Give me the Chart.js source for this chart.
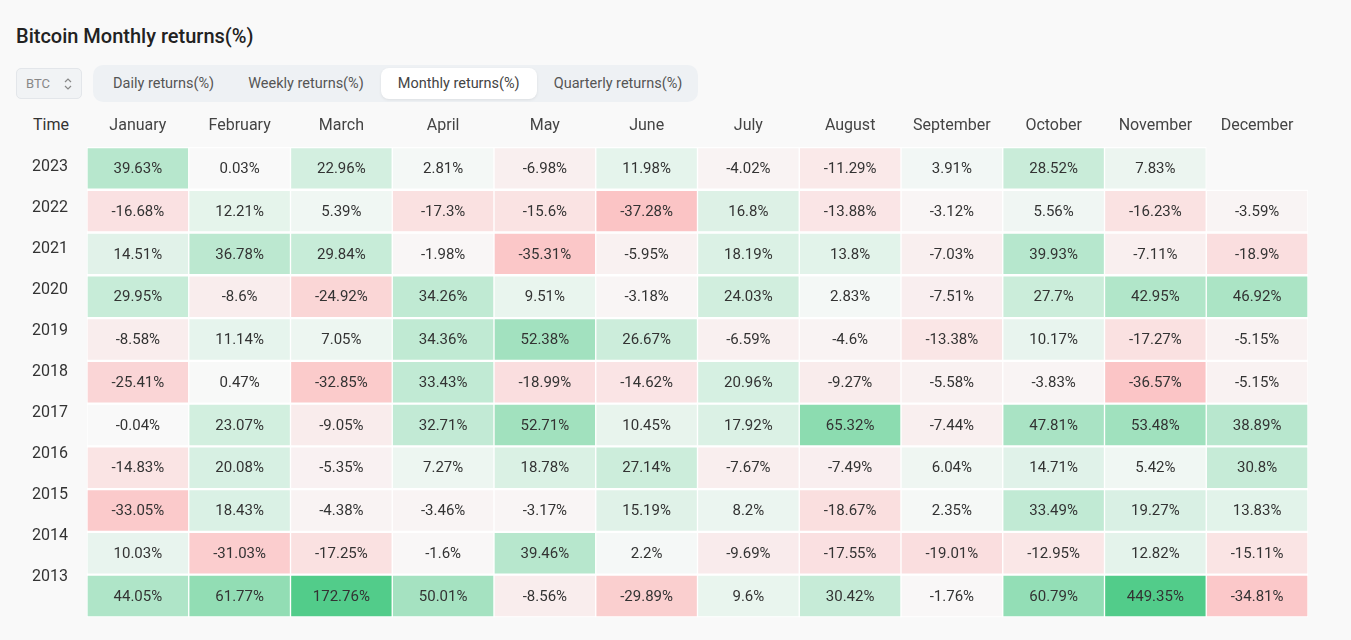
<!DOCTYPE html>
<html>
<head>
<meta charset="utf-8">
<script src="https://cdn.jsdelivr.net/npm/chart.js@4.4.0/dist/chart.umd.min.js"></script>
<style>
  html, body { margin: 0; padding: 0; background: #f9f9f9; }
  body { width: 1351px; height: 640px; position: relative; overflow: hidden; font-family: Roboto, "Noto Sans", sans-serif; }
  .title { position: absolute; left: 16px; top: 24px; font-size: 20px; font-weight: 500; color: #222; line-height: 24px; }
  .select { position: absolute; left: 16px; top: 68px; width: 64px; height: 29px; border: 1px solid #e3e6ea; background: #f1f3f5; border-radius: 5px; box-sizing: content-box; }
  .select span { position: absolute; left: 9px; top: 0; line-height: 29px; font-size: 13px; color: #888; }
  .select svg { position: absolute; left: 46px; top: 8px; }
  .tabs { position: absolute; left: 93px; top: 65px; height: 37px; width: 605px; background: #eef1f4; border-radius: 10px; padding: 3px; box-sizing: border-box; display: flex; }
  .tab { padding: 0 17px; line-height: 31px; font-size: 14.5px; color: #555; border-radius: 8px; white-space: nowrap; }
  .tab.active { background: #fff; box-shadow: 0 1px 3px rgba(0,0,0,0.08); color: #444; }
  .time { position: absolute; left: 33px; top: 115px; font-size: 16px; color: #333; line-height: 20px; }
  #wrap { position: absolute; left: 15px; top: 105px; width: 1300px; height: 541px; }
</style>
</head>
<body>
<div class="title">Bitcoin Monthly returns(%)</div>
<div class="select"><span>BTC</span>
  <svg width="10" height="14" viewBox="0 0 10 14"><path d="M2 5 L5 2 L8 5 M2 9 L5 12 L8 9" fill="none" stroke="#888" stroke-width="1.2"/></svg>
</div>
<div class="tabs">
  <div class="tab">Daily returns(%)</div>
  <div class="tab">Weekly returns(%)</div>
  <div class="tab active">Monthly returns(%)</div>
  <div class="tab">Quarterly returns(%)</div>
</div>
<div class="time">Time</div>
<div id="wrap"><canvas id="heat"></canvas></div>

<script>
const months = ['January', 'February', 'March', 'April', 'May', 'June', 'July', 'August', 'September', 'October', 'November', 'December'];
const years = ['2023', '2022', '2021', '2020', '2019', '2018', '2017', '2016', '2015', '2014', '2013'];

const r2023 = [39.63, 0.03, 22.96, 2.81, -6.98, 11.98, -4.02, -11.29, 3.91, 28.52, 7.83, null];
const r2022 = [-16.68, 12.21, 5.39, -17.3, -15.6, -37.28, 16.8, -13.88, -3.12, 5.56, -16.23, -3.59];
const r2021 = [14.51, 36.78, 29.84, -1.98, -35.31, -5.95, 18.19, 13.8, -7.03, 39.93, -7.11, -18.9];
const r2020 = [29.95, -8.6, -24.92, 34.26, 9.51, -3.18, 24.03, 2.83, -7.51, 27.7, 42.95, 46.92];
const r2019 = [-8.58, 11.14, 7.05, 34.36, 52.38, 26.67, -6.59, -4.6, -13.38, 10.17, -17.27, -5.15];
const r2018 = [-25.41, 0.47, -32.85, 33.43, -18.99, -14.62, 20.96, -9.27, -5.58, -3.83, -36.57, -5.15];
const r2017 = [-0.04, 23.07, -9.05, 32.71, 52.71, 10.45, 17.92, 65.32, -7.44, 47.81, 53.48, 38.89];
const r2016 = [-14.83, 20.08, -5.35, 7.27, 18.78, 27.14, -7.67, -7.49, 6.04, 14.71, 5.42, 30.8];
const r2015 = [-33.05, 18.43, -4.38, -3.46, -3.17, 15.19, 8.2, -18.67, 2.35, 33.49, 19.27, 13.83];
const r2014 = [10.03, -31.03, -17.25, -1.6, 39.46, 2.2, -9.69, -17.55, -19.01, -12.95, 12.82, -15.11];
const r2013 = [44.05, 61.77, 172.76, 50.01, -8.56, -29.89, 9.6, 30.42, -1.76, 60.79, 449.35, -34.81];

const rows = [r2023, r2022, r2021, r2020, r2019, r2018, r2017, r2016, r2015, r2014, r2013];

// white -> green for gains, white -> red for losses, saturating at 100%
function cellColor(v) {
  const base = [249, 249, 249];
  const end = v >= 0 ? [82, 204, 138] : [254, 108, 110];
  const t = Math.min(Math.abs(v) / 100, 1);
  const c = base.map((b, i) => Math.round(b + (end[i] - b) * t));
  return `rgb(${c[0]}, ${c[1]}, ${c[2]})`;
}

// one dataset per year, each cell a floating bar spanning its row (missing months left out)
const datasets = rows.map((vals, r) => ({
  label: years[r],
  data: vals.map((v, m) => ({ x: months[m], y: [r, r + 1], v: v })).filter((d) => d.v !== null),
  backgroundColor: (c) => c.raw ? cellColor(c.raw.v) : 'transparent',
  borderColor: '#ffffff',
  borderWidth: { top: 1.5, bottom: 1.5, left: 1, right: 1 },
  borderSkipped: false,
  barPercentage: 1,
  categoryPercentage: 1,
  grouped: false,
  yAxisID: 'y'
}));

const cellLabels = {
  id: 'cellLabels',
  afterDatasetsDraw(chart) {
    const ctx = chart.ctx;
    ctx.save();
    ctx.font = '15px Roboto, "Noto Sans", sans-serif';
    ctx.fillStyle = '#333';
    ctx.textAlign = 'center';
    ctx.textBaseline = 'middle';
    chart.data.datasets.forEach((ds, i) => {
      chart.getDatasetMeta(i).data.forEach((el, j) => {
        const raw = ds.data[j];
        if (!raw) return;
        const p = el.getCenterPoint();
        ctx.fillText(raw.v + '%', p.x, p.y + 1);
      });
    });
    ctx.restore();
  }
};

new Chart(document.getElementById('heat'), {
  type: 'bar',
  data: { labels: months, datasets: datasets },
  options: {
    responsive: true,
    maintainAspectRatio: false,
    animation: false,
    events: [],
    layout: { padding: { right: 7, bottom: 6, top: 0, left: 0 } },
    plugins: { legend: { display: false }, tooltip: { enabled: false } },
    scales: {
      x: {
        type: 'category',
        position: 'top',
        offset: true,
        grid: { display: false, drawTicks: false },
        border: { display: false },
        ticks: { color: '#444', font: { size: 16, family: 'Roboto' }, padding: 11, maxRotation: 0, autoSkip: false },
        afterFit: (s) => { s.height = 42; }
      },
      y: {
        type: 'linear',
        display: false,
        min: 0,
        max: 11,
        reverse: true
      },
      yl: {
        type: 'linear',
        position: 'left',
        min: -0.488,
        max: 10.975,
        reverse: true,
        grid: { display: false, drawTicks: false },
        border: { display: false },
        afterBuildTicks: (s) => { s.ticks = years.map((_, i) => ({ value: i })); },
        ticks: { color: '#333', font: { size: 16, family: 'Roboto' }, padding: 19, callback: (v) => years[v] },
        afterFit: (s) => { s.width = 72; }
      }
    }
  },
  plugins: [cellLabels]
});
</script>
</body>
</html>
